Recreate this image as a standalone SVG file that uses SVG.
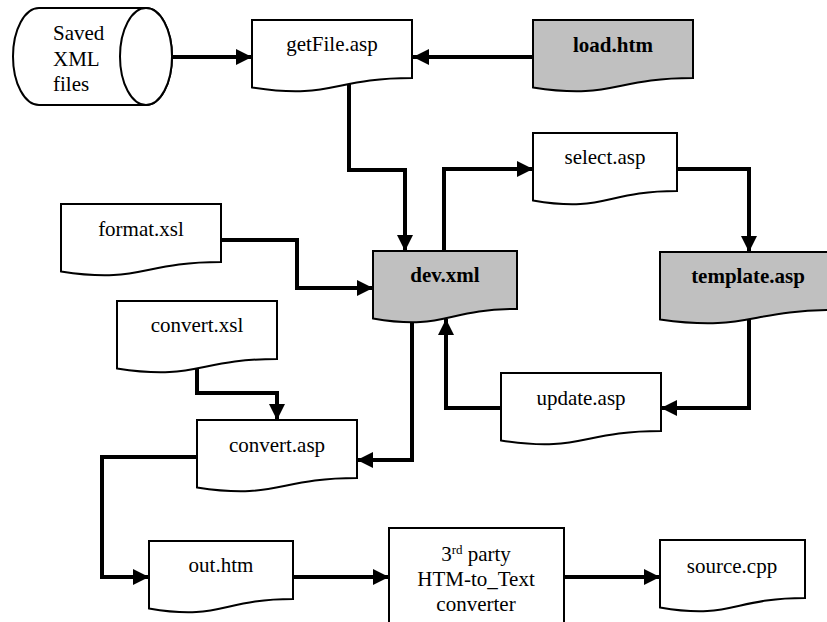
<svg xmlns="http://www.w3.org/2000/svg" width="827" height="622" viewBox="0 0 827 622" font-family="'Liberation Serif', 'DejaVu Serif', 'Times New Roman', serif">
<style>
.n{fill:#fff;stroke:#000;stroke-width:2}
.g{fill:#c0c0c0;stroke:#000;stroke-width:2}
.t{font-size:21px;fill:#000;text-anchor:middle}
.b{font-weight:bold}
.l{text-anchor:start}
.c{fill:none;stroke:#000;stroke-width:4;marker-end:url(#ah)}
</style>
<defs>
<marker id="ah" markerUnits="userSpaceOnUse" markerWidth="16" markerHeight="16" refX="16" refY="8" orient="auto">
<path d="M0,0 L16,8 L0,16 Z" fill="#000"/>
</marker>
</defs>
<g id="connectors">
<path class="c" d="M160,57 H252"/>
<path class="c" d="M545,57 H413"/>
<path class="c" d="M349,80 V170 H405 V251"/>
<path class="c" d="M215,240 H297 V288 H373"/>
<path class="c" d="M444,262 V169 H533"/>
<path class="c" d="M670,169 H749 V252"/>
<path class="c" d="M749,300 V408 H661"/>
<path class="c" d="M512,408 H446 V319"/>
<path class="c" d="M412,300 V460 H357"/>
<path class="c" d="M197,345 V393 H277 V420"/>
<path class="c" d="M207,457 H102 V577 H149"/>
<path class="c" d="M285,577 H389"/>
<path class="c" d="M556,577 H660"/>
</g>
<g id="saved">
<path class="n" d="M39,8 H146 A26,48.5 0 0 1 146,105 H39 A26,48.5 0 0 1 39,8 Z"/>
<ellipse class="n" cx="146" cy="56.5" rx="26" ry="48.5"/>
<text class="t l" x="53" y="40">Saved</text>
<text class="t l" x="53" y="66">XML</text>
<text class="t l" x="53" y="91">files</text>
</g>
<g id="getFile">
<path class="n" d="M252,20 H412 V78 C332,78 332,100 252,87.5 Z"/>
<text class="t" x="332" y="51">getFile.asp</text>
</g>
<g id="load">
<path class="g" d="M533,20 H693 V78 C613,78 613,100 533,87.5 Z"/>
<text class="t b" x="613" y="52">load.htm</text>
</g>
<g id="select">
<path class="n" d="M533,133 H677 V191 C605,191 605,213 533,200.5 Z"/>
<text class="t" x="605" y="164">select.asp</text>
</g>
<g id="dev">
<path class="g" d="M373,251 H517 V309 C445,309 445,331 373,318.5 Z"/>
<text class="t b" x="445" y="282">dev.xml</text>
</g>
<g id="template">
<path class="g" d="M660,252 H836 V310 C748,310 748,332 660,319.5 Z"/>
<text class="t b" x="748" y="283">template.asp</text>
</g>
<g id="format">
<path class="n" d="M61,204 H221 V262 C141,262 141,284 61,271.5 Z"/>
<text class="t" x="141" y="236">format.xsl</text>
</g>
<g id="convertxsl">
<path class="n" d="M117,301 H277 V359 C197,359 197,381 117,368.5 Z"/>
<text class="t" x="197" y="332">convert.xsl</text>
</g>
<g id="convertasp">
<path class="n" d="M197,420 H357 V478 C277,478 277,500 197,487.5 Z"/>
<text class="t" x="277" y="452">convert.asp</text>
</g>
<g id="update">
<path class="n" d="M501,373 H661 V431 C581,431 581,453 501,440.5 Z"/>
<text class="t" x="581" y="405">update.asp</text>
</g>
<g id="out">
<path class="n" d="M149,541 H293 V599 C221,599 221,621 149,608.5 Z"/>
<text class="t" x="221" y="572">out.htm</text>
</g>
<g id="converter">
<rect class="n" x="389" y="528" width="175" height="110"/>
<text class="t" x="476" y="561">3<tspan font-size="13" dy="-7">rd</tspan><tspan dy="7"> party</tspan></text>
<text class="t" x="476" y="586">HTM-to_Text</text>
<text class="t" x="476" y="611">converter</text>
</g>
<g id="source">
<path class="n" d="M660,540 H805 V598 C732,598 732,620 660,607.5 Z"/>
<text class="t" x="732" y="573">source.cpp</text>
</g>
</svg>
